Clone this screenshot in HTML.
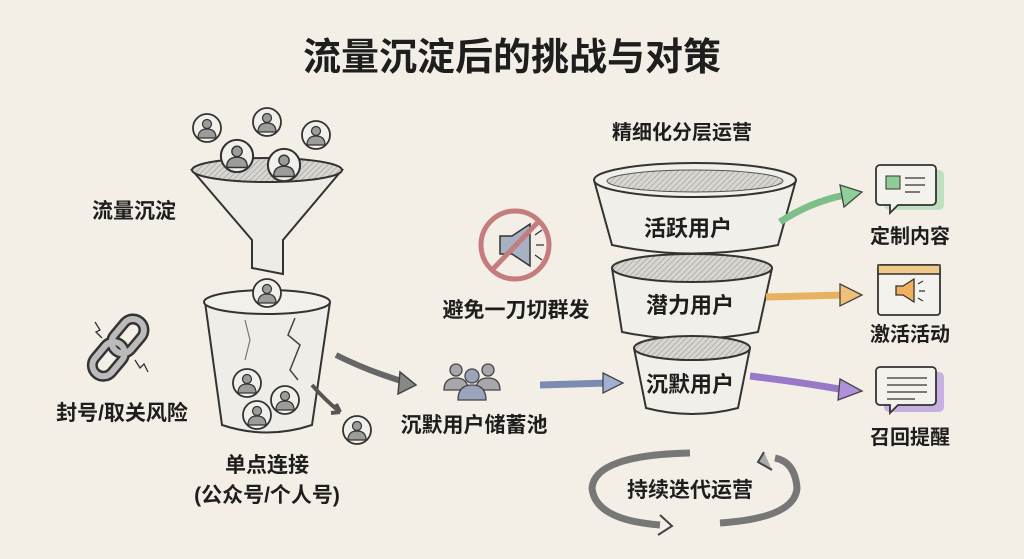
<!DOCTYPE html>
<html><head><meta charset="utf-8"><style>
html,body{margin:0;padding:0;background:#f3efe6;}
svg{display:block;}
text{font-family:"Liberation Sans","Noto Sans CJK SC",sans-serif;fill:#1e1e1e;}
</style></head><body>
<svg width="1024" height="559" viewBox="0 0 1024 559" xmlns="http://www.w3.org/2000/svg">
<defs>
<pattern id="h" width="4" height="4" patternUnits="userSpaceOnUse" patternTransform="rotate(45)"><rect width="4" height="4" fill="#d8d6d0"/><line x1="0" y1="0" x2="0" y2="4" stroke="#9a9a98" stroke-width="1.2"/></pattern>
<g id="u"><circle r="14" fill="#f2f0ea" stroke="#333" stroke-width="1.8"/><circle cy="-4" r="4.5" fill="#9c9c9a" stroke="#333" stroke-width="1.2"/><path d="M-9 10 Q-9 1 0 1 Q9 1 9 10 Z" fill="#9c9c9a" stroke="#333" stroke-width="1.2"/></g>
</defs>
<rect width="1024" height="559" fill="#f3efe6"/>
<text x="512" y="70" font-size="38" font-weight="bold" text-anchor="middle">流量沉淀后的挑战与对策</text>

<!-- funnel -->
<path d="M192 170 L252 240 L252 268 L283 274 L283 240 L342 170 Z" fill="#eeece6" stroke="#333" stroke-width="2"/>
<ellipse cx="267" cy="170" rx="75" ry="12" fill="url(#h)" stroke="#333" stroke-width="2"/>
<use href="#u" x="207" y="128"/><use href="#u" x="267" y="122"/><use href="#u" x="316" y="135"/>
<use href="#u" x="237" y="156" transform="translate(237 156) scale(1.15) translate(-237 -156)"/>
<use href="#u" x="284" y="165" transform="translate(284 165) scale(1.15) translate(-284 -165)"/>
<text x="134" y="218" font-size="21" font-weight="bold" text-anchor="middle">流量沉淀</text>

<!-- cup -->
<path d="M205 302 L222 425 Q267 440 312 425 L330 302" fill="#efede8" stroke="#333" stroke-width="2"/>
<ellipse cx="267" cy="302" rx="63" ry="12" fill="#f2f0ea" stroke="#333" stroke-width="2"/>
<path d="M295 318 L288 335 L300 345 L290 370 L298 380" fill="none" stroke="#444" stroke-width="1.5"/>
<path d="M245 320 L250 340 L245 360" fill="none" stroke="#777" stroke-width="1.2"/>
<use href="#u" x="267" y="293"/><use href="#u" x="247" y="383"/><use href="#u" x="285" y="400"/><use href="#u" x="257" y="415"/><use href="#u" x="357" y="430"/>
<path d="M312 385 Q325 400 340 412 L336 404 M340 412 L331 413" fill="none" stroke="#555" stroke-width="4"/>
<path d="M336 355 Q370 372 408 383" fill="none" stroke="#666" stroke-width="6"/>
<path d="M400 372 L416 385 L398 394 Z" fill="#888" stroke="#444" stroke-width="1.5"/>
<text x="267" y="472" font-size="21" font-weight="bold" text-anchor="middle">单点连接</text>
<text x="267" y="502" font-size="21" font-weight="bold" text-anchor="middle">(公众号/个人号)</text>

<!-- chain -->
<g transform="translate(122 343) rotate(-50)" fill="none" stroke="#333" stroke-width="11"><rect x="-40" y="-11" width="38" height="22" rx="11"/><rect x="-10" y="-11" width="38" height="22" rx="11"/></g>
<g transform="translate(122 343) rotate(-50)" fill="none" stroke="#bbb" stroke-width="6"><rect x="-40" y="-11" width="38" height="22" rx="11"/><rect x="-10" y="-11" width="38" height="22" rx="11"/></g>
<path d="M95 322 L100 330 L96 332 L102 338" fill="none" stroke="#333" stroke-width="1.3"/>
<path d="M135 360 L140 368 L144 364 L148 372" fill="none" stroke="#333" stroke-width="1.3"/>
<text x="122" y="420" font-size="21" font-weight="bold" text-anchor="middle">封号/取关风险</text>

<!-- no broadcast -->
<path d="M500 236 L512 236 L530 224 L530 266 L512 254 L500 254 Z" fill="#a8b0c4" stroke="#333" stroke-width="1.5"/>
<path d="M535 235 L542 230 M536 245 L544 245 M535 255 L542 260" stroke="#333" stroke-width="1.3"/>
<circle cx="515" cy="245" r="34" fill="none" stroke="#c47c7c" stroke-width="5"/>
<line x1="492" y1="270" x2="540" y2="220" stroke="#c47c7c" stroke-width="5"/>
<text x="516" y="317" font-size="21" font-weight="bold" text-anchor="middle">避免一刀切群发</text>

<!-- group -->
<g fill="#a8a8ac" stroke="#444" stroke-width="1.3">
<circle cx="456" cy="370" r="6"/><path d="M444 390 Q444 378 456 378 Q468 378 468 390Z"/>
<circle cx="488" cy="370" r="6"/><path d="M476 390 Q476 378 488 378 Q500 378 500 390Z"/>
<circle cx="472" cy="376" r="7" fill="#9aa4bc"/><path d="M458 400 Q458 385 472 385 Q486 385 486 400Z" fill="#9aa4bc"/></g>
<text x="474" y="432" font-size="21" font-weight="bold" text-anchor="middle">沉默用户储蓄池</text>
<path d="M540 385 L608 383" stroke="#7c8cb0" stroke-width="7"/>
<path d="M603 373 L623 383 L603 393 Z" fill="#9fb0d0" stroke="#444" stroke-width="1.3"/>

<!-- tiers -->
<text x="682" y="139" font-size="20" font-weight="bold" text-anchor="middle">精细化分层运营</text>
<path d="M594 180 L612 245 Q690 262 778 245 L796 180" fill="#f1efe9" stroke="#333" stroke-width="2"/>
<ellipse cx="695" cy="180" rx="101" ry="17" fill="#f1efe9" stroke="#333" stroke-width="2"/>
<ellipse cx="695" cy="181" rx="88" ry="11" fill="url(#h)" stroke="#555" stroke-width="1"/>
<text x="688" y="236" font-size="22" font-weight="bold" text-anchor="middle">活跃用户</text>
<path d="M612 268 L622 332 Q690 346 758 332 L772 268" fill="#f1efe9" stroke="#333" stroke-width="2"/>
<ellipse cx="692" cy="268" rx="80" ry="14" fill="url(#h)" stroke="#333" stroke-width="2"/>
<text x="690" y="313" font-size="22" font-weight="bold" text-anchor="middle">潜力用户</text>
<path d="M634 348 L646 408 Q692 420 738 408 L750 348" fill="#f1efe9" stroke="#333" stroke-width="2"/>
<ellipse cx="692" cy="348" rx="58" ry="12" fill="url(#h)" stroke="#333" stroke-width="2"/>
<text x="690" y="392" font-size="22" font-weight="bold" text-anchor="middle">沉默用户</text>

<!-- colored arrows -->
<path d="M780 222 Q810 202 845 195" fill="none" stroke="#7cbf88" stroke-width="7"/>
<path d="M840 185 L862 192 L844 207 Z" fill="#8fd09a" stroke="#444" stroke-width="1.3"/>
<path d="M766 297 L845 295" stroke="#e8b060" stroke-width="7"/>
<path d="M840 284 L862 295 L840 306 Z" fill="#f0c07a" stroke="#444" stroke-width="1.3"/>
<path d="M750 376 Q800 382 845 390" fill="none" stroke="#9a78c8" stroke-width="7"/>
<path d="M840 379 L862 391 L838 400 Z" fill="#b090dc" stroke="#444" stroke-width="1.3"/>

<!-- right icons -->
<rect x="884" y="170" width="60" height="40" rx="5" fill="#bfe0c0" stroke="none"/>
<path d="M880 165 h52 a4 4 0 0 1 4 4 v32 a4 4 0 0 1 -4 4 h-34 l-8 8 v-8 h-10 a4 4 0 0 1 -4 -4 v-32 a4 4 0 0 1 4 -4z" fill="#f4f2ec" stroke="#333" stroke-width="1.8"/>
<rect x="886" y="176" width="14" height="13" fill="#8fcc96" stroke="#333"/>
<path d="M905 178 h20 M905 185 h20 M905 192 h15" stroke="#333" stroke-width="1.3"/>
<text x="910" y="243" font-size="20" font-weight="bold" text-anchor="middle">定制内容</text>
<rect x="878" y="265" width="62" height="50" rx="3" fill="#f4f2ec" stroke="#333" stroke-width="1.8"/>
<rect x="878" y="265" width="62" height="9" fill="#f0c88a" stroke="#333" stroke-width="1.5"/>
<path d="M896 286 L903 286 L914 279 L914 302 L903 295 L896 295 Z" fill="#f0b060" stroke="#333" stroke-width="1.3"/>
<path d="M918 284 L923 281 M919 291 L925 291 M918 298 L923 301" stroke="#333" stroke-width="1.2"/>
<text x="910" y="341" font-size="20" font-weight="bold" text-anchor="middle">激活活动</text>
<rect x="884" y="372" width="60" height="40" rx="5" fill="#c6b0e0"/>
<path d="M880 367 h52 a4 4 0 0 1 4 4 v30 a4 4 0 0 1 -4 4 h-34 l-8 8 v-8 h-10 a4 4 0 0 1 -4 -4 v-30 a4 4 0 0 1 4 -4z" fill="#f4f2ec" stroke="#333" stroke-width="1.8"/>
<path d="M887 378 h40 M887 385 h40 M887 392 h40 M887 399 h28" stroke="#333" stroke-width="1.3"/>
<text x="910" y="444" font-size="20" font-weight="bold" text-anchor="middle">召回提醒</text>

<!-- cycle -->
<path d="M690 453 Q595 455 592 488 Q595 520 660 525" fill="none" stroke="#777" stroke-width="7"/>
<path d="M660 515 L672 526 L658 535" fill="none" stroke="#444" stroke-width="2"/>
<path d="M720 523 Q795 518 797 488 Q795 462 775 458" fill="none" stroke="#777" stroke-width="7"/>
<path d="M764 452 L758 462 L772 470" fill="#aaa" stroke="#444" stroke-width="2"/>
<text x="690" y="497" font-size="21" font-weight="bold" text-anchor="middle">持续迭代运营</text>
</svg>
</body></html>
